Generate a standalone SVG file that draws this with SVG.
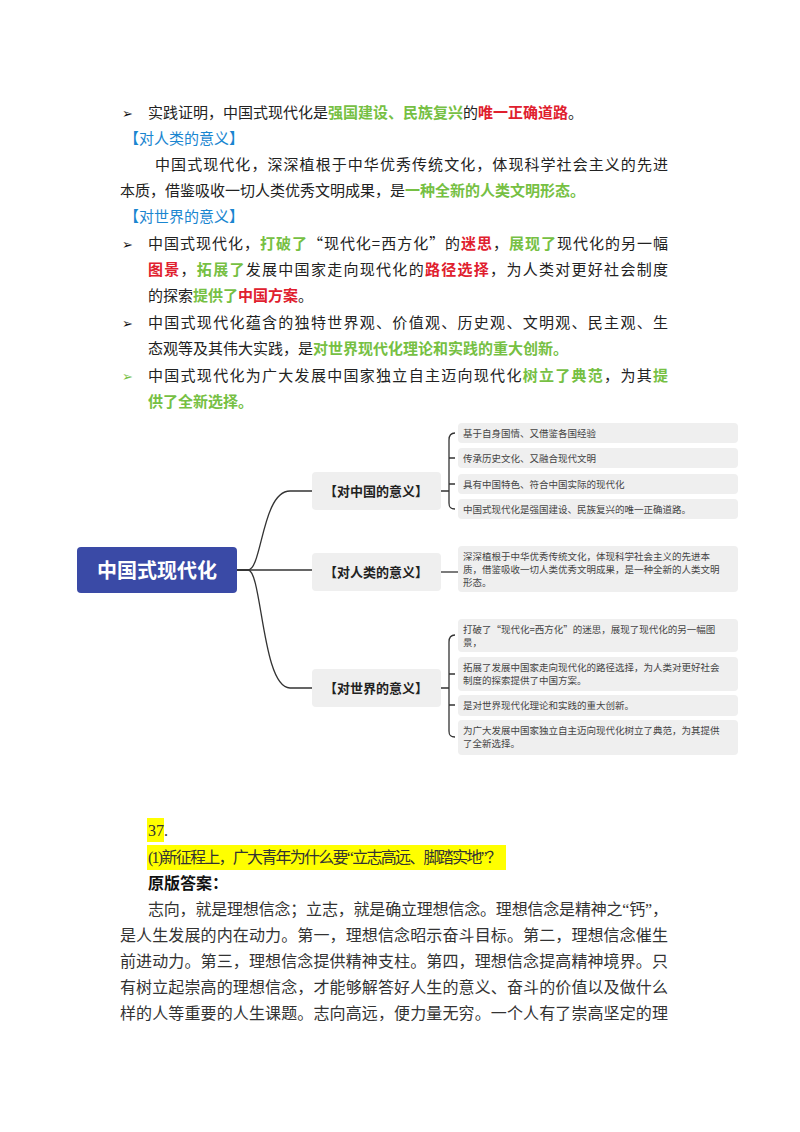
<svg xmlns="http://www.w3.org/2000/svg" width="800" height="1132" viewBox="0 0 800 1132">
<style>
.t{font-family:"Noto Sans CJK SC",sans-serif;font-size:15px;fill:#222}
.b{font-family:"Liberation Serif","Noto Sans CJK SC",serif;font-size:16px;fill:#333}
.g{fill:#76c043;font-weight:bold}
.r{fill:#e0202e;font-weight:bold}
.h{fill:#1a86d0}
.ar{font-family:"DejaVu Sans",sans-serif;font-size:13px;fill:#111}
.mid{fill:#efefef}
.leaf{fill:#efefef}
.mt{font-family:"Noto Sans CJK SC",sans-serif;font-size:13px;font-weight:bold;fill:#222}
.lt{font-family:"Noto Sans CJK SC",sans-serif;font-size:9.5px;fill:#444}
.c{fill:none;stroke:#333;stroke-width:1.3}
</style>
<rect width="800" height="1132" fill="#fff"/>
<g id="toptext">
<text x="122" y="118" class="ar">➢</text>
<text x="148" y="118" class="t">实践证明，中国式现代化是<tspan class="g">强国建设、民族复兴</tspan>的<tspan class="r">唯一正确道路</tspan>。</text>
<text x="124" y="144" class="t h">【对人类的意义】</text>
<text x="155" y="170" class="t" textLength="513" lengthAdjust="spacing">中国式现代化，深深植根于中华优秀传统文化，体现科学社会主义的先进</text>
<text x="120" y="196" class="t">本质，借鉴吸收一切人类优秀文明成果，是<tspan class="g">一种全新的人类文明形态。</tspan></text>
<text x="124" y="222" class="t h">【对世界的意义】</text>
<text x="122" y="249" class="ar">➢</text>
<text x="148" y="249" class="t" textLength="520" lengthAdjust="spacing">中国式现代化，<tspan class="g">打破了</tspan>“现代化=西方化”的<tspan class="r">迷思</tspan>，<tspan class="g">展现了</tspan>现代化的另一幅</text>
<text x="148" y="275" class="t" textLength="520" lengthAdjust="spacing"><tspan class="r">图景</tspan>，<tspan class="g">拓展了</tspan>发展中国家走向现代化的<tspan class="r">路径选择</tspan>，为人类对更好社会制度</text>
<text x="148" y="301" class="t">的探索<tspan class="g">提供了</tspan><tspan class="r">中国方案</tspan>。</text>
<text x="122" y="328" class="ar">➢</text>
<text x="148" y="328" class="t" textLength="520" lengthAdjust="spacing">中国式现代化蕴含的独特世界观、价值观、历史观、文明观、民主观、生</text>
<text x="148" y="354" class="t">态观等及其伟大实践，是<tspan class="g">对世界现代化理论和实践的重大创新。</tspan></text>
<text x="122" y="381" class="ar" style="fill:#76c043">➢</text>
<text x="148" y="381" class="t" textLength="520" lengthAdjust="spacing">中国式现代化为广大发展中国家独立自主迈向现代化<tspan class="g">树立了典范</tspan>，为其<tspan class="g">提</tspan></text>
<text x="148" y="407" class="t g">供了全新选择。</text>
</g>
<g id="connectors">
<path class="c" d="M237,570 H248 C262,570 262,491 290,491 H312"/>
<path class="c" d="M237,570 H312"/>
<path class="c" d="M237,570 H248 C262,570 262,688 290,688 H312"/>
<path class="c" d="M441,491 H449 M455,433 C450,433 449,436 449,440 V503 C449,507 450,509 455,509 M449,458 H455 M449,484 H455"/>
<path class="c" d="M441,572 H461"/>
<path class="c" d="M441,688 H449 M455,635 C450,635 449,638 449,642 V731 C449,735 450,737 455,737 M449,674 H455 M449,705 H455"/>
</g>
<g id="root"><rect x="77" y="547" width="160" height="46" rx="4" fill="#3a4aa6"/><text x="157" y="578" text-anchor="middle" font-family="Noto Sans CJK SC,sans-serif" font-size="20" font-weight="bold" fill="#fff">中国式现代化</text></g>
<g id="n-china"><rect class="mid" x="312" y="472" width="129" height="38" rx="4"/><text class="mt" x="376" y="496" text-anchor="middle">【对中国的意义】</text></g>
<g id="n-human"><rect class="mid" x="312" y="553" width="129" height="38" rx="4"/><text class="mt" x="376" y="577" text-anchor="middle">【对人类的意义】</text></g>
<g id="n-world"><rect class="mid" x="312" y="669" width="129" height="38" rx="4"/><text class="mt" x="376" y="693" text-anchor="middle">【对世界的意义】</text></g>
<g id="l1"><rect class="leaf" x="458" y="423" width="280" height="20" rx="4"/><text class="lt" x="463" y="437">基于自身国情、又借鉴各国经验</text></g>
<g id="l2"><rect class="leaf" x="458" y="448" width="280" height="20" rx="4"/><text class="lt" x="463" y="462">传承历史文化、又融合现代文明</text></g>
<g id="l3"><rect class="leaf" x="458" y="474" width="280" height="20" rx="4"/><text class="lt" x="463" y="488">具有中国特色、符合中国实际的现代化</text></g>
<g id="l4"><rect class="leaf" x="458" y="499" width="280" height="20" rx="4"/><text class="lt" x="463" y="513">中国式现代化是强国建设、民族复兴的唯一正确道路。</text></g>
<g id="l5"><rect class="leaf" x="458" y="546" width="280" height="46" rx="4"/><text class="lt" x="463" y="560">深深植根于中华优秀传统文化，体现科学社会主义的先进本</text><text class="lt" x="463" y="573">质，借鉴吸收一切人类优秀文明成果，是一种全新的人类文明</text><text class="lt" x="463" y="586">形态。</text></g>
<g id="l6"><rect class="leaf" x="458" y="619" width="280" height="33" rx="4"/><text class="lt" x="463" y="633">打破了“现代化=西方化”的迷思，展现了现代化的另一幅图</text><text class="lt" x="463" y="646">景，</text></g>
<g id="l7"><rect class="leaf" x="458" y="657" width="280" height="34" rx="4"/><text class="lt" x="463" y="671">拓展了发展中国家走向现代化的路径选择，为人类对更好社会</text><text class="lt" x="463" y="684">制度的探索提供了中国方案。</text></g>
<g id="l8"><rect class="leaf" x="458" y="695" width="280" height="21" rx="4"/><text class="lt" x="463" y="709">是对世界现代化理论和实践的重大创新。</text></g>
<g id="l9"><rect class="leaf" x="458" y="720" width="280" height="35" rx="4"/><text class="lt" x="463" y="734">为广大发展中国家独立自主迈向现代化树立了典范，为其提供</text><text class="lt" x="463" y="747">了全新选择。</text></g>
<g id="bottom">
<rect x="147" y="818" width="17" height="24" fill="#ffff00"/>
<text x="148" y="836" class="b">37.</text>
<rect x="147" y="845" width="359" height="25" fill="#ffff00"/>
<text x="148" y="863" class="b" textLength="354" lengthAdjust="spacing">(1)新征程上，广大青年为什么要“立志高远、脚踏实地”？</text>
<text x="148" y="889" class="b" style="font-weight:bold;fill:#111">原版答案：</text>
<text x="148" y="915" class="b" textLength="520" lengthAdjust="spacing">志向，就是理想信念；立志，就是确立理想信念。理想信念是精神之“钙”，</text>
<text x="120" y="941" class="b" textLength="548" lengthAdjust="spacing">是人生发展的内在动力。第一，理想信念昭示奋斗目标。第二，理想信念催生</text>
<text x="120" y="967" class="b" textLength="548" lengthAdjust="spacing">前进动力。第三，理想信念提供精神支柱。第四，理想信念提高精神境界。只</text>
<text x="120" y="993" class="b" textLength="548" lengthAdjust="spacing">有树立起崇高的理想信念，才能够解答好人生的意义、奋斗的价值以及做什么</text>
<text x="120" y="1019" class="b" textLength="548" lengthAdjust="spacing">样的人等重要的人生课题。志向高远，便力量无穷。一个人有了崇高坚定的理</text>
</g>
</svg>
